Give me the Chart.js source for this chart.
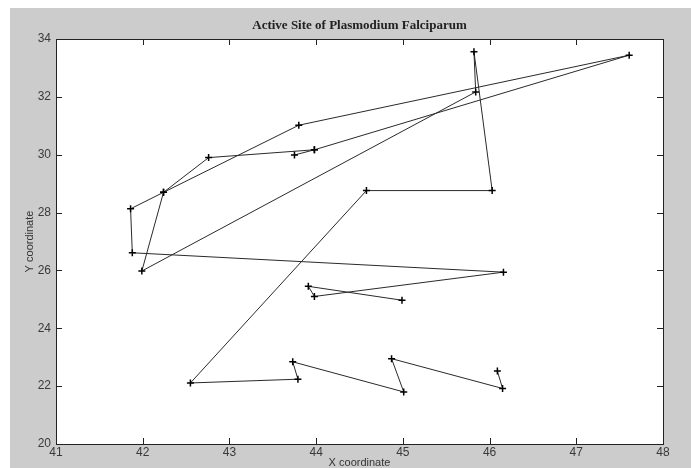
<!DOCTYPE html>
<html>
<head>
<meta charset="utf-8">
<title>Active Site of Plasmodium Falciparum</title>
<script src="https://cdn.jsdelivr.net/npm/chart.js@4.4.0/dist/chart.umd.min.js"></script>
<style>
  html, body { margin: 0; padding: 0; background: #fff; }
  canvas { display: block; }
</style>
</head>
<body>
<canvas id="chart" width="691" height="468"></canvas>
<script>
// residue positions (two traced chains)
const chainAX = [44.99, 43.91, 43.98, 46.16, 41.88, 41.86, 42.24, 43.80, 47.61, 43.98, 43.75];
const chainAY = [24.97, 25.45, 25.10, 25.94, 26.61, 28.13, 28.70, 31.02, 33.44, 30.17, 29.99];

const chainBX = [43.98, 42.76, 42.24, 41.99, 45.84, 45.82, 46.03, 44.58, 42.55, 43.79, 43.73, 45.01, 44.87, 46.15, 46.09];
const chainBY = [30.17, 29.90, 28.70, 25.98, 32.17, 33.56, 28.76, 28.76, 22.11, 22.24, 22.84, 21.80, 22.95, 21.92, 22.52];

const xTicks = [41, 42, 43, 44, 45, 46, 47, 48];
const yTicks = [20, 22, 24, 26, 28, 30, 32, 34];

function toPoints(xs, ys) {
  return xs.map((x, i) => ({ x: x, y: ys[i] }));
}

// matlab style figure: grey panel, white axes box, ticks pointing inward
const matlabFrame = {
  id: 'matlabFrame',
  beforeDraw(chart) {
    const { ctx, chartArea: a } = chart;
    ctx.save();
    ctx.fillStyle = '#ffffff';
    ctx.fillRect(0, 0, chart.width, chart.height);
    ctx.fillStyle = '#cccccc';
    ctx.fillRect(10, 8, chart.width - 10, chart.height - 8);
    ctx.fillStyle = '#ffffff';
    ctx.fillRect(a.left, a.top, a.right - a.left, a.bottom - a.top);
    ctx.restore();
  },
  afterDraw(chart) {
    const { ctx, chartArea: a, scales } = chart;
    ctx.save();
    ctx.strokeStyle = '#222';
    ctx.lineWidth = 1;
    ctx.strokeRect(a.left + 0.5, a.top + 0.5, a.right - a.left, a.bottom - a.top);
    ctx.beginPath();
    xTicks.forEach(v => {
      const px = Math.round(scales.x.getPixelForValue(v)) + 0.5;
      ctx.moveTo(px, a.bottom); ctx.lineTo(px, a.bottom - 6);
      ctx.moveTo(px, a.top); ctx.lineTo(px, a.top + 6);
    });
    yTicks.forEach(v => {
      const py = Math.round(scales.y.getPixelForValue(v)) + 0.5;
      ctx.moveTo(a.left, py); ctx.lineTo(a.left + 6, py);
      ctx.moveTo(a.right, py); ctx.lineTo(a.right - 6, py);
    });
    ctx.stroke();
    ctx.restore();
  }
};

const lineStyle = {
  showLine: true,
  borderColor: '#2a2a2a',
  borderWidth: 1,
  pointStyle: 'cross',
  pointRadius: 3.5,
  pointBorderColor: '#000',
  pointBorderWidth: 1.5,
  pointBackgroundColor: '#000',
  tension: 0
};

new Chart(document.getElementById('chart'), {
  type: 'scatter',
  data: {
    datasets: [
      Object.assign({ label: 'chain A', data: toPoints(chainAX, chainAY) }, lineStyle),
      Object.assign({ label: 'chain B', data: toPoints(chainBX, chainBY) }, lineStyle)
    ]
  },
  options: {
    responsive: false,
    animation: false,
    layout: { padding: { left: 0, right: 28, top: 0, bottom: 0 } },
    plugins: {
      legend: { display: false },
      tooltip: { enabled: false },
      title: {
        display: true,
        text: 'Active Site of Plasmodium Falciparum',
        fullSize: false,
        color: '#222',
        font: { family: 'Liberation Serif', size: 13, weight: 'bold' },
        padding: { top: 18, bottom: 5.4 }
      }
    },
    scales: {
      x: {
        type: 'linear',
        min: 41,
        max: 48,
        afterBuildTicks: s => { s.ticks = xTicks.map(v => ({ value: v })); },
        afterFit: s => { s.height = 24; },
        grid: { display: false, drawTicks: false },
        border: { display: false },
        ticks: {
          padding: 1,
          color: '#3a3a3a',
          font: { family: 'Liberation Sans', size: 12 },
          maxRotation: 0
        },
        title: {
          display: true,
          text: 'X coordinate',
          color: '#333',
          font: { family: 'Liberation Sans', size: 11, lineHeight: 1 },
          padding: { top: 0, bottom: 0 }
        }
      },
      y: {
        type: 'linear',
        min: 20,
        max: 34,
        afterBuildTicks: s => { s.ticks = yTicks.map(v => ({ value: v })); },
        afterFit: s => { s.width = 56; },
        grid: { display: false, drawTicks: false },
        border: { display: false },
        ticks: {
          padding: 5,
          color: '#3a3a3a',
          font: { family: 'Liberation Sans', size: 12 }
        },
        title: {
          display: true,
          text: 'Y coordinate',
          color: '#333',
          font: { family: 'Liberation Sans', size: 11 },
          padding: { top: 23, bottom: 0 }
        }
      }
    }
  },
  plugins: [matlabFrame]
});
</script>
</body>
</html>
